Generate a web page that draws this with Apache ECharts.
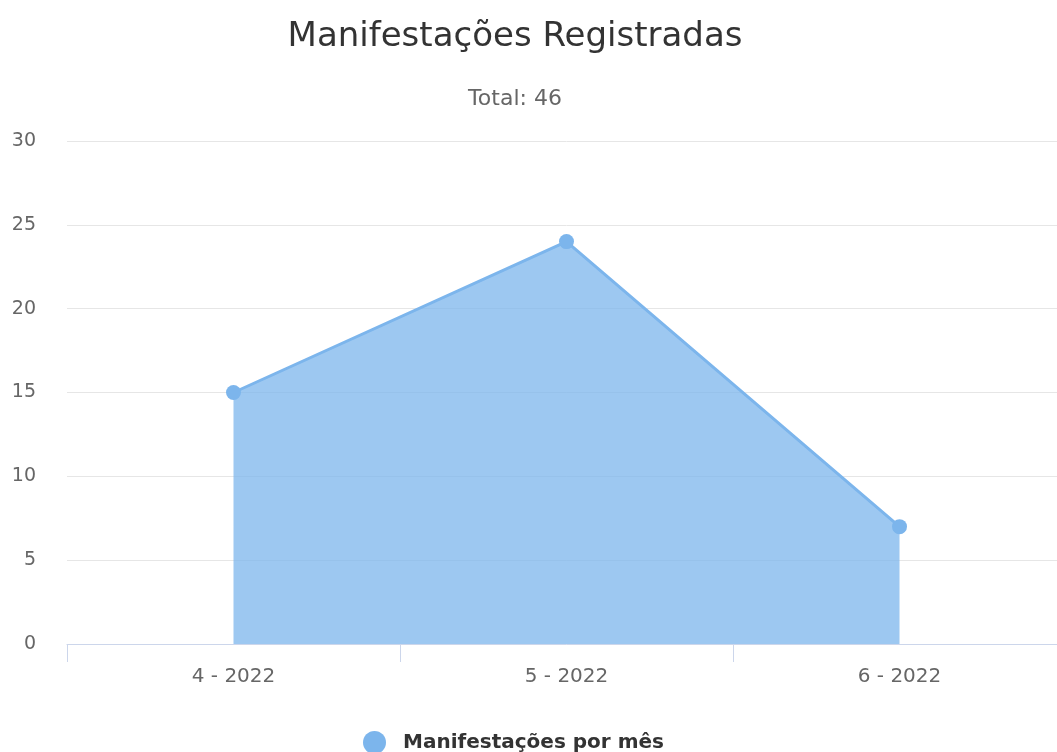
<!DOCTYPE html>
<html>
<head>
<meta charset="utf-8">
<script src="https://cdn.jsdelivr.net/npm/echarts@6/dist/echarts.min.js"></script>
<style>
  html, body { margin: 0; padding: 0; background: #fff; overflow: hidden; }
  #chart { width: 1066px; height: 752px; }
</style>
</head>
<body>
<div id="chart"></div>
<script>
var meses = ['4 - 2022', '5 - 2022', '6 - 2022'];
var manifestacoes = [15, 24, 7];
var yTicks = [0, 5, 10, 15, 20, 25, 30];

var chart = echarts.init(document.getElementById('chart'));
var fonte = '"DejaVu Sans", Verdana, sans-serif';

var option = {
    animation: false,
    title: [{
        text: 'Manifestações Registradas',
        left: 510,
        top: 15,
        textAlign: 'center',
        textStyle: { fontFamily: fonte, fontSize: 34, fontWeight: 'normal', color: '#333333' }
    }, {
        text: 'Total: 46',
        left: 510,
        top: 83,
        textAlign: 'center',
        textStyle: { fontFamily: fonte, fontSize: 22, fontWeight: 'normal', color: '#666666' }
    }],
    legend: {
        left: 358,
        top: 726,
        icon: 'circle',
        itemWidth: 23,
        itemHeight: 23,
        textStyle: { fontFamily: fonte, fontSize: 20, fontWeight: 'bold', color: '#333333', padding: [0, 0, 0, 12] },
        data: ['Manifestações por mês']
    },
    grid: {
        left: 67,
        top: 141,
        right: 0,
        bottom: 108
    },
    xAxis: {
        type: 'category',
        data: meses,
        boundaryGap: true,
        axisLine: { lineStyle: { color: '#ccd6eb', width: 1 } },
        axisTick: { show: true, length: 18, lineStyle: { color: '#ccd6eb' } },
        axisLabel: { margin: 23, fontFamily: fonte, fontSize: 20, color: '#666666' }
    },
    yAxis: {
        type: 'value',
        min: yTicks[0],
        max: yTicks[yTicks.length - 1],
        interval: 5,
        axisLine: { show: false },
        axisTick: { show: false },
        splitLine: { lineStyle: { color: '#e6e6e6', width: 1 } },
        axisLabel: { margin: 31, fontFamily: fonte, fontSize: 19, color: '#666666' }
    },
    series: [{
        name: 'Manifestações por mês',
        type: 'line',
        data: manifestacoes,
        symbol: 'circle',
        symbolSize: 15,
        itemStyle: { color: '#7cb5ec' },
        lineStyle: { color: '#7cb5ec', width: 3 },
        areaStyle: { color: '#7cb5ec', opacity: 0.75 }
    }]
};
chart.setOption(option);
window.addEventListener('resize', function () { chart.resize(); });
</script>
</body>
</html>
